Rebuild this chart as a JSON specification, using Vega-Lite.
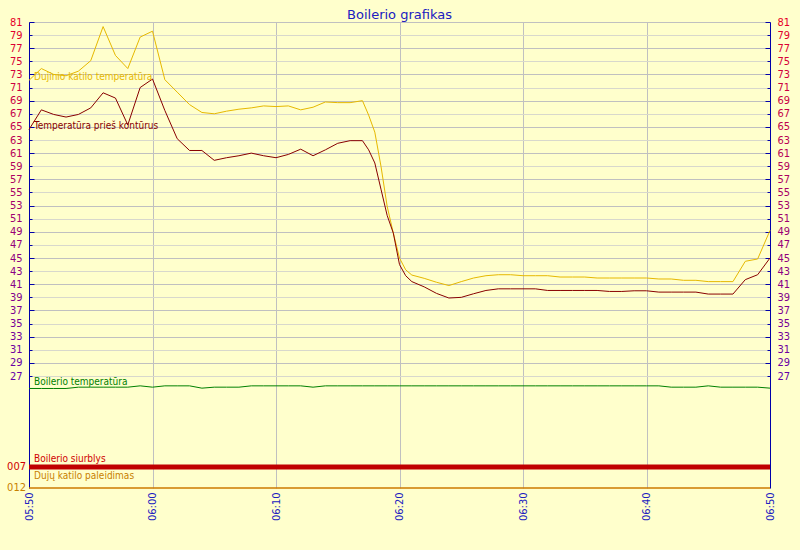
{
  "$schema": "https://vega.github.io/schema/vega-lite/v6.json",
  "width": 741,
  "height": 466,
  "autosize": {"type": "none"},
  "padding": {"left": 29, "top": 22, "right": 30, "bottom": 62},
  "background": "#FFFFCC",
  "config": {"view": {"stroke": null}, "font": "DejaVu Sans Condensed"},
  "title": {"text": "Boilerio grafikas", "font": "DejaVu Sans", "fontSize": 13, "fontWeight": "normal", "color": "#2020C0", "anchor": "middle", "frame": "group", "baseline": "alphabetic", "offset": 0, "dy": 16},
  "datasets": {
    "dujinio": [
      {"m":0,"v":72.1},{"m":1,"v":73.9},{"m":2,"v":73.0},{"m":3,"v":72.8},{"m":4,"v":73.5},{"m":5,"v":75.1},{"m":6,"v":80.3},{"m":7,"v":75.9},{"m":8,"v":73.9},{"m":9,"v":78.7},{"m":10,"v":79.6},{"m":11,"v":72.2},{"m":12,"v":70.3},{"m":13,"v":68.4},{"m":14,"v":67.2},{"m":15,"v":67.0},{"m":16,"v":67.4},{"m":17,"v":67.7},{"m":18,"v":67.9},{"m":19,"v":68.2},{"m":20,"v":68.1},{"m":21,"v":68.2},{"m":22,"v":67.6},{"m":23,"v":68.0},{"m":24,"v":68.8},{"m":25,"v":68.7},{"m":26,"v":68.7},{"m":27,"v":69.0},{"m":27.5,"v":66.8},{"m":28,"v":64.2},{"m":28.5,"v":59.0},{"m":29,"v":52.9},{"m":29.5,"v":48.8},{"m":30,"v":45.0},{"m":30.5,"v":43.2},{"m":31,"v":42.4},{"m":32,"v":41.9},{"m":33,"v":41.3},{"m":34,"v":40.8},{"m":35,"v":41.4},{"m":36,"v":41.95},{"m":37,"v":42.3},{"m":38,"v":42.45},{"m":39,"v":42.45},{"m":40,"v":42.3},{"m":41,"v":42.3},{"m":42,"v":42.3},{"m":43,"v":42.1},{"m":44,"v":42.1},{"m":45,"v":42.1},{"m":46,"v":41.95},{"m":47,"v":41.95},{"m":48,"v":41.95},{"m":49,"v":41.95},{"m":50,"v":41.95},{"m":51,"v":41.8},{"m":52,"v":41.8},{"m":53,"v":41.6},{"m":54,"v":41.6},{"m":55,"v":41.4},{"m":56,"v":41.4},{"m":57,"v":41.4},{"m":58,"v":44.5},{"m":59,"v":44.85},{"m":60,"v":49.2}
    ],
    "pries": [
      {"m":0,"v":64.6},{"m":1,"v":67.6},{"m":2,"v":66.9},{"m":3,"v":66.5},{"m":4,"v":66.9},{"m":5,"v":67.9},{"m":6,"v":70.2},{"m":7,"v":69.4},{"m":8,"v":65.3},{"m":9,"v":71.0},{"m":10,"v":72.3},{"m":11,"v":67.5},{"m":12,"v":63.2},{"m":13,"v":61.4},{"m":14,"v":61.4},{"m":15,"v":59.9},{"m":16,"v":60.3},{"m":17,"v":60.6},{"m":18,"v":61.0},{"m":19,"v":60.6},{"m":20,"v":60.3},{"m":21,"v":60.8},{"m":22,"v":61.6},{"m":23,"v":60.6},{"m":24,"v":61.5},{"m":25,"v":62.5},{"m":26,"v":62.9},{"m":27,"v":62.9},{"m":27.5,"v":61.5},{"m":28,"v":59.5},{"m":28.5,"v":55.5},{"m":29,"v":51.5},{"m":29.5,"v":48.8},{"m":30,"v":44.0},{"m":30.5,"v":42.3},{"m":31,"v":41.4},{"m":32,"v":40.6},{"m":33,"v":39.6},{"m":34,"v":38.9},{"m":35,"v":39.0},{"m":36,"v":39.55},{"m":37,"v":40.05},{"m":38,"v":40.3},{"m":39,"v":40.3},{"m":40,"v":40.3},{"m":41,"v":40.3},{"m":42,"v":40.05},{"m":43,"v":40.05},{"m":44,"v":40.05},{"m":45,"v":40.05},{"m":46,"v":40.05},{"m":47,"v":39.9},{"m":48,"v":39.9},{"m":49,"v":40.0},{"m":50,"v":40.0},{"m":51,"v":39.8},{"m":52,"v":39.8},{"m":53,"v":39.8},{"m":54,"v":39.8},{"m":55,"v":39.5},{"m":56,"v":39.5},{"m":57,"v":39.5},{"m":58,"v":41.7},{"m":59,"v":42.45},{"m":60,"v":45.0}
    ],
    "boiler": [
      {"m":0,"v":25.1},{"m":1,"v":25.1},{"m":2,"v":25.1},{"m":3,"v":25.1},{"m":4,"v":25.3},{"m":5,"v":25.3},{"m":6,"v":25.3},{"m":7,"v":25.3},{"m":8,"v":25.3},{"m":9,"v":25.5},{"m":10,"v":25.3},{"m":11,"v":25.5},{"m":12,"v":25.5},{"m":13,"v":25.5},{"m":14,"v":25.15},{"m":15,"v":25.3},{"m":16,"v":25.3},{"m":17,"v":25.3},{"m":18,"v":25.5},{"m":19,"v":25.5},{"m":20,"v":25.5},{"m":21,"v":25.5},{"m":22,"v":25.5},{"m":23,"v":25.3},{"m":24,"v":25.5},{"m":25,"v":25.5},{"m":26,"v":25.5},{"m":27,"v":25.5},{"m":28,"v":25.5},{"m":29,"v":25.5},{"m":30,"v":25.5},{"m":31,"v":25.5},{"m":32,"v":25.5},{"m":33,"v":25.5},{"m":34,"v":25.5},{"m":35,"v":25.5},{"m":36,"v":25.5},{"m":37,"v":25.5},{"m":38,"v":25.5},{"m":39,"v":25.5},{"m":40,"v":25.5},{"m":41,"v":25.5},{"m":42,"v":25.5},{"m":43,"v":25.5},{"m":44,"v":25.5},{"m":45,"v":25.5},{"m":46,"v":25.5},{"m":47,"v":25.5},{"m":48,"v":25.5},{"m":49,"v":25.5},{"m":50,"v":25.5},{"m":51,"v":25.5},{"m":52,"v":25.3},{"m":53,"v":25.3},{"m":54,"v":25.3},{"m":55,"v":25.5},{"m":56,"v":25.3},{"m":57,"v":25.3},{"m":58,"v":25.3},{"m":59,"v":25.3},{"m":60,"v":25.15}
    ],
    "siurblys": [{"m":0,"v":13.12},{"m":60,"v":13.12}],
    "paleidimas": [{"m":0,"v":9.92},{"m":60,"v":9.92}],
    "names": [
      {"s":"Dujinio katilo temperatūra","m":0,"v":72.15},
      {"s":"Temperatūra prieš kontūrus","m":0,"v":64.65},
      {"s":"Boilerio temperatūra","m":0,"v":25.6},
      {"s":"Boilerio siurblys","m":0,"v":13.85},
      {"s":"Dujų katilo paleidimas","m":0,"v":11.3}
    ],
    "codes": [
      {"s":"Boilerio siurblys","code":"007","m":0,"v":13.12},
      {"s":"Dujų katilo paleidimas","code":"012","m":0,"v":9.92}
    ]
  },
  "encoding": {
    "x": {
      "field": "m", "type": "quantitative",
      "scale": {"domain": [0, 60], "nice": false, "zero": false},
      "axis": {
        "values": [0, 10, 20, 30, 40, 50, 60],
        "labelExpr": "timeFormat(datetime(2024, 0, 1, 5, 50 + datum.value), '%H:%M')",
        "title": null, "grid": true, "gridColor": "#C0C0C0", "ticks": false, "domain": false,
        "labelAngle": 270, "labelAlign": "right", "labelBaseline": "middle",
        "labelColor": "#2020C0", "labelFont": "DejaVu Sans Condensed", "labelFontSize": 11, "labelPadding": 4
      }
    },
    "y": {
      "field": "v", "type": "quantitative",
      "scale": {"domain": [9.92, 81], "nice": false, "zero": false},
      "axis": null
    }
  },
  "layer": [
    {
      "data": {"name": "dujinio"},
      "mark": {"type": "line", "color": "#E6B800", "strokeWidth": 1},
      "encoding": {
        "y": {
          "field": "v", "type": "quantitative",
          "scale": {"domain": [9.92, 81], "nice": false, "zero": false},
          "axis": {
            "orient": "left", "title": null,
            "values": [27,29,31,33,35,37,39,41,43,45,47,49,51,53,55,57,59,61,63,65,67,69,71,73,75,77,79,81],
            "grid": true,
            "gridColor": {"condition": {"test": "datum.value % 4 == 1", "value": "#C0C0C0"}, "value": "#D8D8CC"},
            "domainColor": "#0000AA",
            "tickColor": "#0000AA",
            "tickSize": {"condition": {"test": "datum.value % 4 == 1", "value": -5}, "value": -3},
            "labelPadding": {"condition": {"test": "datum.value % 4 == 1", "value": 12}, "value": 10},
            "labelColor": {"expr": "'rgb(' + round(100 + (datum.value - 27) * 2.4) + ',0,' + round(170 - (datum.value - 27) * 2.4) + ')'"},
            "labelFont": "DejaVu Sans Condensed", "labelFontSize": 11,
            "labelOverlap": false, "labelBound": false
          }
        }
      }
    },
    {
      "data": {"name": "pries"},
      "mark": {"type": "line", "color": "#880000", "strokeWidth": 1},
      "encoding": {
        "y": {
          "field": "v", "type": "quantitative",
          "scale": {"domain": [9.92, 81], "nice": false, "zero": false},
          "axis": {
            "orient": "right", "title": null,
            "values": [27,29,31,33,35,37,39,41,43,45,47,49,51,53,55,57,59,61,63,65,67,69,71,73,75,77,79,81],
            "grid": false,
            "domainColor": "#0000AA",
            "tickColor": "#0000AA",
            "tickSize": {"condition": {"test": "datum.value % 4 == 1", "value": -5}, "value": -3},
            "labelPadding": {"condition": {"test": "datum.value % 4 == 1", "value": 12}, "value": 10},
            "labelColor": {"expr": "'rgb(' + round(100 + (datum.value - 27) * 2.4) + ',0,' + round(170 - (datum.value - 27) * 2.4) + ')'"},
            "labelFont": "DejaVu Sans Condensed", "labelFontSize": 11,
            "labelOverlap": false, "labelBound": false
          }
        }
      }
    },
    {
      "data": {"name": "boiler"},
      "mark": {"type": "line", "color": "#008000", "strokeWidth": 1}
    },
    {
      "data": {"name": "siurblys"},
      "mark": {"type": "line", "color": "#C00000", "strokeWidth": 5}
    },
    {
      "data": {"name": "paleidimas"},
      "mark": {"type": "line", "color": "#CC7A00", "strokeWidth": 1.5}
    },
    {
      "data": {"name": "names"},
      "mark": {"type": "text", "align": "left", "baseline": "alphabetic", "dx": 5, "font": "DejaVu Sans Condensed", "fontSize": 10},
      "encoding": {
        "text": {"field": "s"},
        "color": {
          "field": "s", "type": "nominal", "legend": null,
          "scale": {
            "domain": ["Dujinio katilo temperatūra", "Temperatūra prieš kontūrus", "Boilerio temperatūra", "Boilerio siurblys", "Dujų katilo paleidimas"],
            "range": ["#E6B800", "#880000", "#008000", "#D00000", "#C88000"]
          }
        }
      }
    },
    {
      "data": {"name": "codes"},
      "mark": {"type": "text", "align": "right", "baseline": "middle", "dx": -3, "font": "DejaVu Sans Condensed", "fontSize": 11},
      "encoding": {
        "text": {"field": "code"},
        "color": {"field": "s", "type": "nominal", "legend": null}
      }
    }
  ],
  "resolve": {"axis": {"y": "independent"}}
}
